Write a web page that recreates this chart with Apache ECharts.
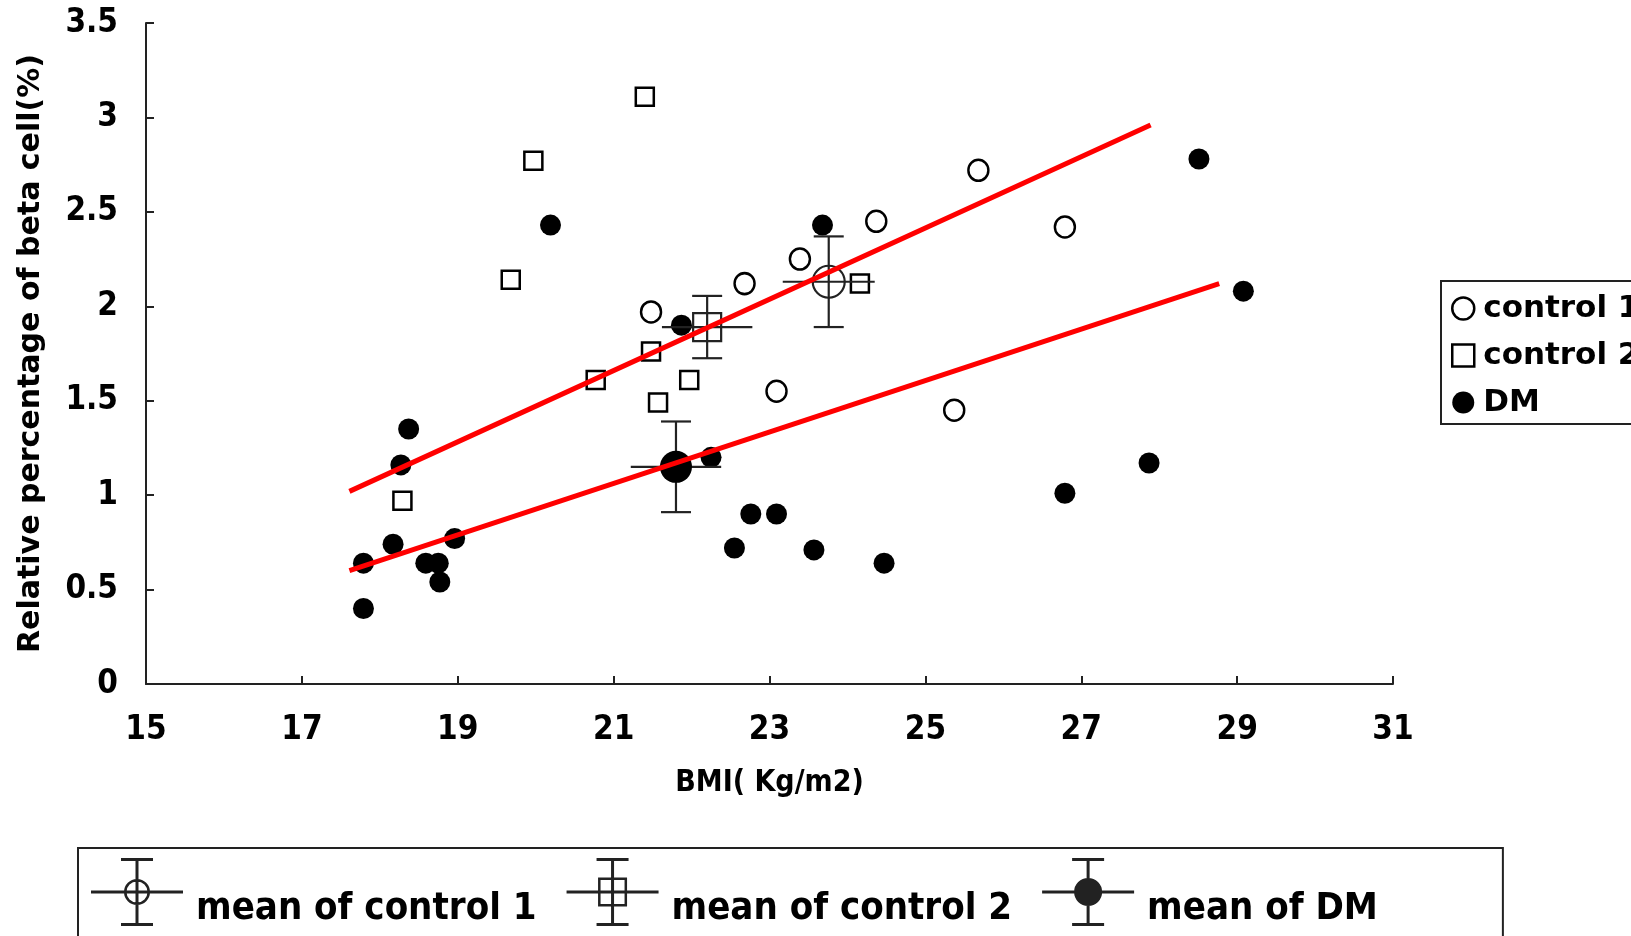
<!DOCTYPE html>
<html>
<head>
<meta charset="utf-8">
<script src="https://cdn.jsdelivr.net/npm/echarts@6.0.0/dist/echarts.min.js"></script>
<style>
  html, body { margin: 0; padding: 0; background: #fff; }
  #chart { width: 1631px; height: 936px; }
</style>
</head>
<body>
<div id="chart"></div>
<script>
// [BMI, relative % of beta cell]
const control1 = [
  [21.48, 1.97], [22.68, 2.12], [23.39, 2.25], [24.37, 2.45],
  [25.68, 2.72], [26.79, 2.42], [23.09, 1.55], [25.37, 1.45]
];
const control2 = [
  [21.4, 3.11], [19.97, 2.77], [19.68, 2.14], [20.77, 1.61], [21.48, 1.76],
  [21.57, 1.49], [21.97, 1.61], [24.16, 2.12], [18.29, 0.97]
];
const dm = [
  [20.19, 2.43], [23.68, 2.43], [28.51, 2.78], [29.08, 2.08], [21.87, 1.9],
  [22.25, 1.2], [18.37, 1.35], [18.27, 1.16], [17.79, 0.64], [17.79, 0.4],
  [18.17, 0.74], [18.59, 0.64], [18.75, 0.64], [18.77, 0.54], [18.96, 0.77],
  [22.55, 0.72], [22.76, 0.9], [23.09, 0.9], [23.57, 0.71], [24.47, 0.64],
  [26.79, 1.01], [27.87, 1.17]
];

// [BMI mean, beta mean, BMI error, beta error]
const meanControl1 = [[23.76, 2.13, 0.59, 0.24]];
const meanControl2 = [[22.2, 1.89, 0.58, 0.165]];
const meanDM = [[21.8, 1.15, 0.58, 0.24]];

const fitControl = [[17.61, 1.02], [27.89, 2.96]];
const fitDM = [[17.61, 0.6], [28.77, 2.12]];

const xTicks = [15, 17, 19, 21, 23, 25, 27, 29, 31];
const yTicks = [0, 0.5, 1, 1.5, 2, 2.5, 3, 3.5];

const boldFont = "'Liberation Sans Narrow', 'DejaVu Sans Condensed', 'Liberation Sans', sans-serif";
const wideFont = "'DejaVu Sans', 'Liberation Sans', sans-serif";

// legend glyphs: error bar cross + marker
const bars = "M0 32.5H92V35.5H0Z M44.5 0H47.5V68H44.5Z M30 0H62V3H30Z M30 65H62V68H30Z";
const glyphC1 = bars + " M59 34A13 13 0 1 1 33 34A13 13 0 1 1 59 34Z M56.5 34A10.5 10.5 0 1 0 35.5 34A10.5 10.5 0 1 0 56.5 34Z";
const glyphC2 = bars + " M31.5 19.5H60.5V48.5H31.5Z M34 22V46H58V22Z";
const glyphDM = bars + " M60 34A14 14 0 1 1 32 34A14 14 0 1 1 60 34Z";

function errorBars(marker) {
  return function (params, api) {
    const x = api.value(0), y = api.value(1), xe = api.value(2), ye = api.value(3);
    const c = api.coord([x, y]);
    const top = api.coord([x, y + ye]);
    const bot = api.coord([x, y - ye]);
    const left = api.coord([x - xe, y]);
    const right = api.coord([x + xe, y]);
    const cap = 15;
    const ls = { stroke: "#222", lineWidth: 2.2 };
    const children = [
      { type: "line", shape: { x1: c[0], y1: top[1], x2: c[0], y2: bot[1] }, style: ls },
      { type: "line", shape: { x1: c[0] - cap, y1: top[1], x2: c[0] + cap, y2: top[1] }, style: ls },
      { type: "line", shape: { x1: c[0] - cap, y1: bot[1], x2: c[0] + cap, y2: bot[1] }, style: ls },
      { type: "line", shape: { x1: left[0], y1: c[1], x2: right[0], y2: c[1] }, style: ls }
    ];
    if (marker === "circle") {
      children.push({ type: "circle", shape: { cx: c[0], cy: c[1], r: 16 }, style: { fill: null, stroke: "#222", lineWidth: 2.2 } });
    } else if (marker === "rect") {
      children.push({ type: "rect", shape: { x: c[0] - 14, y: c[1] - 14, width: 28, height: 28 }, style: { fill: null, stroke: "#222", lineWidth: 2.2 } });
    } else {
      children.push({ type: "circle", shape: { cx: c[0], cy: c[1], r: 16 }, style: { fill: "#000" } });
    }
    return { type: "group", children: children };
  };
}

const chart = echarts.init(document.getElementById("chart"));

chart.setOption({
  backgroundColor: "#fff",
  animation: false,
  grid: { left: 146, right: 238, top: 23, bottom: 252 },
  xAxis: {
    type: "value",
    min: 15,
    max: 31,
    interval: 2,
    name: "BMI( Kg/m2)",
    nameLocation: "middle",
    nameGap: 84,
    nameTextStyle: { color: "#000", fontSize: 30, fontWeight: "bold", fontFamily: boldFont },
    axisLine: { lineStyle: { color: "#222", width: 2 } },
    axisTick: { inside: true, length: 8, lineStyle: { color: "#222", width: 2 } },
    axisLabel: {
      margin: 30,
      color: "#000",
      fontSize: 33,
      fontWeight: "bold",
      fontFamily: boldFont,
      customValues: xTicks
    },
    splitLine: { show: false }
  },
  yAxis: {
    type: "value",
    min: 0,
    max: 3.5,
    interval: 0.5,
    name: "Relative percentage of beta cell(%)",
    nameLocation: "middle",
    nameGap: 100,
    nameTextStyle: { color: "#000", fontSize: 30, fontWeight: "bold", fontFamily: wideFont },
    axisLine: { show: true, lineStyle: { color: "#222", width: 2 } },
    axisTick: { show: true, inside: true, length: 8, lineStyle: { color: "#222", width: 2 } },
    axisLabel: {
      margin: 28,
      color: "#000",
      fontSize: 33,
      fontWeight: "bold",
      fontFamily: boldFont,
      formatter: function (v) { return yTicks.indexOf(v) >= 0 ? String(v) : ""; }
    },
    splitLine: { show: false }
  },
  legend: [
    {
      orient: "vertical",
      left: 1441,
      top: 281,
      selectedMode: false,
      itemWidth: 22,
      itemHeight: 22,
      itemGap: 16,
      padding: [12, 60, 6, 10],
      borderColor: "#222",
      borderWidth: 2,
      textStyle: { color: "#000", fontSize: 31, fontWeight: "bold", fontFamily: wideFont, padding: [0, 0, 0, 4] },
      data: [
        { name: "control 1", icon: "circle", itemStyle: { color: "#fff", borderColor: "#000", borderWidth: 2.5 } },
        { name: "control 2", icon: "rect", itemStyle: { color: "#fff", borderColor: "#000", borderWidth: 2.5 } },
        { name: "DM", icon: "circle", itemStyle: { color: "#000", borderWidth: 0 } }
      ]
    },
    {
      orient: "horizontal",
      left: 78,
      top: 848,
      selectedMode: false,
      itemWidth: 92,
      itemHeight: 68,
      itemGap: 30,
      padding: [10, 125, 14, 13],
      borderColor: "#222",
      borderWidth: 2,
      formatter: "{t|{name}}",
      textStyle: {
        rich: {
          t: { color: "#000", fontSize: 38, fontWeight: "bold", fontFamily: boldFont, padding: [34, 0, 0, 8] }
        }
      },
      data: [
        { name: "mean of control 1", icon: "path://" + glyphC1, itemStyle: { color: "#222", borderWidth: 0 } },
        { name: "mean of control 2", icon: "path://" + glyphC2, itemStyle: { color: "#222", borderWidth: 0 } },
        { name: "mean of DM", icon: "path://" + glyphDM, itemStyle: { color: "#222", borderWidth: 0 } }
      ]
    }
  ],
  series: [
    {
      name: "fit control",
      type: "line",
      data: fitControl,
      symbol: "none",
      lineStyle: { color: "#ff0000", width: 5 },
      z: 5
    },
    {
      name: "fit DM",
      type: "line",
      data: fitDM,
      symbol: "none",
      lineStyle: { color: "#ff0000", width: 5 },
      z: 5
    },
    {
      name: "control 1",
      type: "scatter",
      data: control1,
      symbol: "circle",
      symbolSize: [20, 21],
      itemStyle: { color: "#fff", borderColor: "#000", borderWidth: 2.5, opacity: 1 }
    },
    {
      name: "control 2",
      type: "scatter",
      data: control2,
      symbol: "rect",
      symbolSize: 18,
      itemStyle: { color: "#fff", borderColor: "#000", borderWidth: 2.5, opacity: 1 }
    },
    {
      name: "DM",
      type: "scatter",
      data: dm,
      symbol: "circle",
      symbolSize: 21,
      itemStyle: { color: "#000", opacity: 1 }
    },
    { name: "mean of control 1", type: "custom", data: meanControl1, renderItem: errorBars("circle"), z: 4 },
    { name: "mean of control 2", type: "custom", data: meanControl2, renderItem: errorBars("rect"), z: 4 },
    { name: "mean of DM", type: "custom", data: meanDM, renderItem: errorBars("dot"), z: 4 }
  ]
});
</script>
</body>
</html>
